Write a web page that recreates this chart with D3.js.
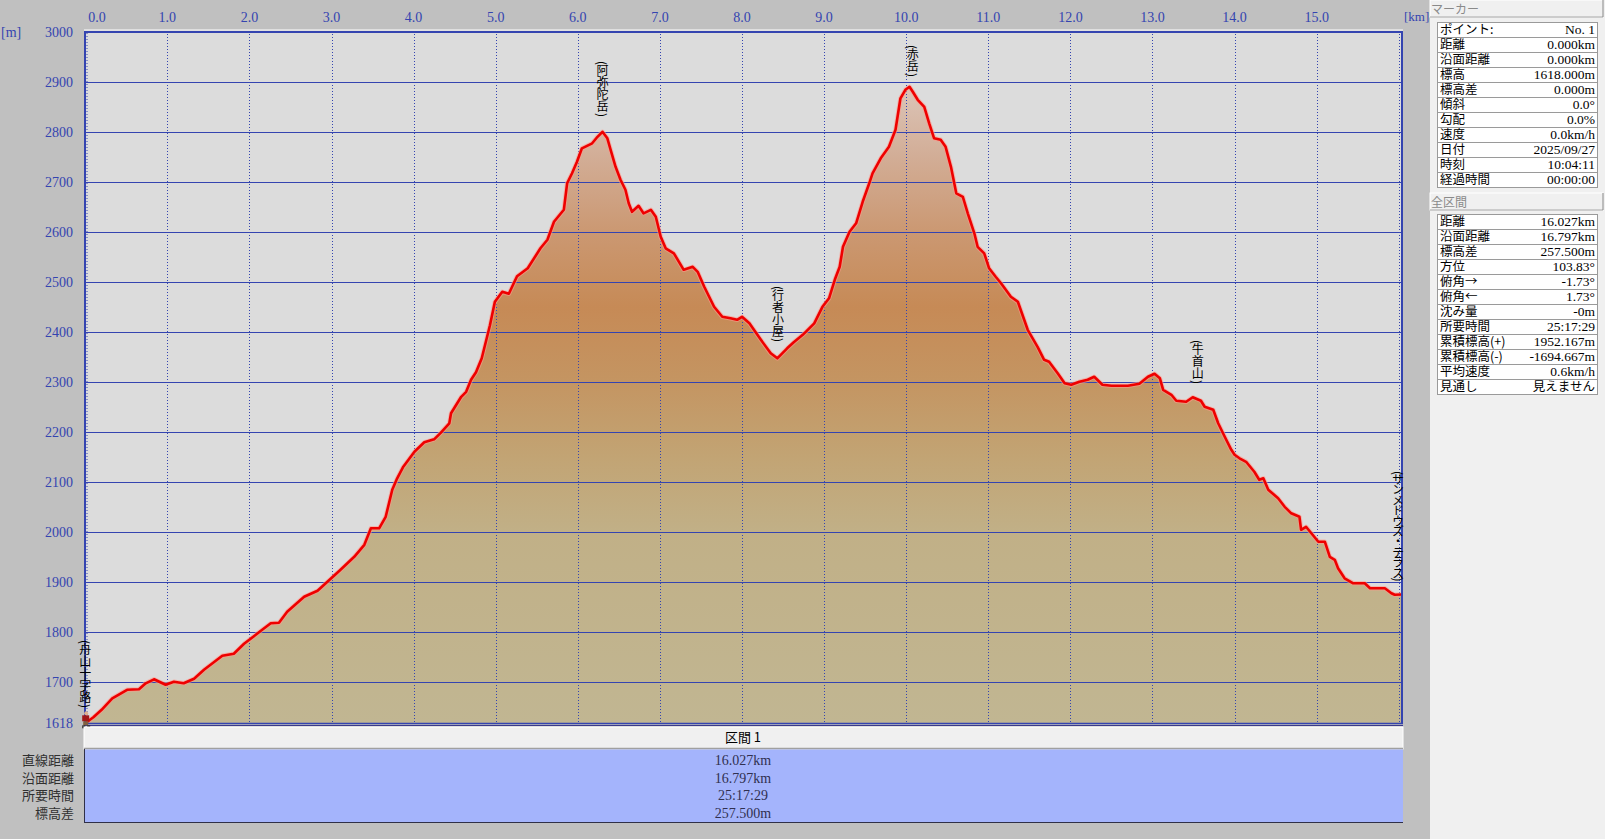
<!DOCTYPE html>
<html><head><meta charset="utf-8">
<script src="https://cdn.jsdelivr.net/npm/d3@7/dist/d3.min.js"></script>
<style>
html,body{margin:0;padding:0;background:#c0c0c0;overflow:hidden;}
#wrap{position:relative;width:1605px;height:839px;}
svg{display:block;position:absolute;left:0;top:0;}
.wp{position:absolute;writing-mode:vertical-rl;text-orientation:mixed;font-family:'Noto Sans CJK JP','Noto Sans',sans-serif;font-size:12px;line-height:13px;color:#000;white-space:nowrap;transform:translate(-50%,-100%);}
</style></head>
<body>
<div id="wrap"><svg id="c" width="1605" height="839"></svg></div>
<script>
// ---- data ----
const distanceKm = [0,0.1,0.2,0.33,0.51,0.655,0.737,0.838,0.98,1.08,1.2,1.326,1.447,1.67,1.81,1.935,2.14,2.26,2.36,2.46,2.667,2.83,2.95,3.11,3.277,3.4,3.48,3.58,3.66,3.74,3.8,3.87,4.01,4.13,4.25,4.33,4.435,4.456,4.58,4.64,4.7,4.76,4.83,4.93,4.99,5.08,5.16,5.26,5.39,5.545,5.63,5.71,5.83,5.87,5.93,5.99,6.05,6.175,6.24,6.3,6.36,6.4,6.46,6.52,6.58,6.62,6.66,6.74,6.8,6.89,6.95,7.01,7.07,7.17,7.29,7.4,7.46,7.54,7.66,7.76,7.86,7.94,8.0,8.09,8.23,8.35,8.43,8.55,8.63,8.74,8.88,8.98,9.06,9.13,9.19,9.23,9.31,9.39,9.47,9.55,9.59,9.69,9.79,9.87,9.93,9.99,10.04,10.08,10.14,10.22,10.28,10.34,10.42,10.48,10.545,10.61,10.69,10.75,10.83,10.87,10.95,11.01,11.09,11.155,11.275,11.36,11.48,11.6,11.68,11.74,11.845,11.93,12.01,12.11,12.21,12.29,12.39,12.5,12.7,12.84,12.945,13.025,13.09,13.13,13.23,13.29,13.41,13.49,13.59,13.635,13.74,13.8,13.88,13.96,14.0,14.06,14.14,14.24,14.3,14.35,14.41,14.53,14.61,14.69,14.79,14.81,14.87,14.95,15.02,15.1,15.16,15.22,15.26,15.34,15.445,15.585,15.65,15.83,15.91,15.95,16.027];
const elevationM = [1618,1630,1645,1668,1685,1686,1698,1706,1695,1701,1698,1707,1725,1753,1757,1777,1803,1818,1819,1841,1871,1883,1901,1925,1951,1975,2008,2008,2031,2085,2108,2130,2161,2180,2186,2199,2218,2238,2271,2281,2305,2320,2348,2414,2461,2481,2477,2512,2528,2568,2585,2621,2645,2698,2718,2741,2768,2778,2791,2801,2788,2765,2731,2705,2685,2658,2641,2653,2638,2645,2631,2591,2568,2558,2525,2531,2521,2491,2451,2431,2428,2425,2431,2418,2385,2358,2348,2368,2380,2395,2418,2451,2468,2505,2531,2571,2601,2618,2661,2698,2718,2748,2771,2805,2868,2885,2891,2881,2865,2851,2818,2788,2785,2771,2731,2678,2671,2638,2598,2571,2558,2528,2511,2498,2471,2461,2405,2371,2345,2341,2318,2298,2295,2301,2305,2311,2295,2293,2293,2297,2311,2317,2308,2285,2275,2263,2261,2270,2263,2251,2245,2218,2191,2165,2155,2148,2141,2121,2105,2108,2085,2068,2051,2038,2031,2005,2011,1995,1981,1981,1951,1945,1928,1908,1898,1898,1888,1888,1878,1875,1875.5];
const waypointNames = ["(舟山十字路)","(阿弥陀岳)","(行者小屋)","(赤岳)","(牛首山)","(サンメドウズ・テラス)"];
const waypointKm = [0,6.30,8.44,10.08,13.55,16.027];
const xTicks = [0,1,2,3,4,5,6,7,8,9,10,11,12,13,14,15];
const xTickLabels = ["0.0","1.0","2.0","3.0","4.0","5.0","6.0","7.0","8.0","9.0","10.0","11.0","12.0","13.0","14.0","15.0"];
const yTicks = [1618,1700,1800,1900,2000,2100,2200,2300,2400,2500,2600,2700,2800,2900,3000];
const markerLabels = ["ポイント:","距離","沿面距離","標高","標高差","傾斜","勾配","速度","日付","時刻","経過時間"];
const markerValues = ["No. 1","0.000km","0.000km","1618.000m","0.000m","0.0°","0.0%","0.0km/h","2025/09/27","10:04:11","00:00:00"];
const totalLabels = ["距離","沿面距離","標高差","方位","俯角→","俯角←","沈み量","所要時間","累積標高(+)","累積標高(-)","平均速度","見通し"];
const totalValues = ["16.027km","16.797km","257.500m","103.83°","-1.73°","1.73°","-0m","25:17:29","1952.167m","-1694.667m","0.6km/h","見えません"];
const sectionRowLabels = ["直線距離","沿面距離","所要時間","標高差"];
const sectionValues = ["16.027km","16.797km","25:17:29","257.500m"];
const sectionTitle = "区間 1";

// ---- layout ----
const svg = d3.select("#c");
const P = {l:84, r:1402, t:31, b:724};
const x = d3.scaleLinear().domain([0,16]).range([85.2, 85.2+82.1*16]);
const y = d3.scaleLinear().domain([1618,3000]).range([723.3, 32.3]);
const serif = "'Liberation Serif','DejaVu Serif',serif";
const jp = "'Noto Sans CJK JP','Noto Sans',sans-serif";
const blue = "#3444b0";
const data = distanceKm.map((d,i)=>({km:d, m:elevationM[i]}));

// right panel
svg.append("rect").attr("x",1430).attr("y",0).attr("width",175).attr("height",839).attr("fill","#f0f0f0");

// plot bg
svg.append("rect").attr("x",P.l).attr("y",P.t).attr("width",P.r-P.l).attr("height",P.b-P.t).attr("fill","#dcdcdc");

// gradient
const defs = svg.append("defs");
const grad = defs.append("linearGradient").attr("id","fillg").attr("gradientUnits","userSpaceOnUse")
  .attr("x1",0).attr("x2",0).attr("y1",y(2900)).attr("y2",y(1618));
const stops = [[2900,"#dcc6ba"],[2750,"#d2ad96"],[2600,"#cb9872"],[2450,"#c68a56"],[2300,"#c49562"],[2150,"#c2a474"],[2000,"#c1b087"],[1618,"#c1b692"]];
stops.forEach(s=>grad.append("stop").attr("offset",(y(s[0])-y(2900))/(y(1618)-y(2900))).attr("stop-color",s[1]));

const area = d3.area().x(d=>x(d.km)).y0(y(1618)).y1(d=>y(d.m));
svg.append("path").datum(data).attr("d",area).attr("fill","url(#fillg)");

// grid
svg.append("g").selectAll("line").data(yTicks.filter(t=>t>1618 && t<3000)).join("line")
  .attr("x1",P.l).attr("x2",P.r).attr("y1",d=>Math.round(y(d))+0.5).attr("y2",d=>Math.round(y(d))+0.5)
  .attr("stroke",blue).attr("stroke-width",1.2);
svg.append("g").selectAll("line").data(xTicks.slice(1).concat([16])).join("line")
  .attr("x1",d=>Math.round(x(d))+0.5).attr("x2",d=>Math.round(x(d))+0.5).attr("y1",P.t).attr("y2",P.b)
  .attr("stroke",blue).attr("stroke-width",1).attr("stroke-dasharray","1,2");

// profile line
const line = d3.line().x(d=>x(d.km)).y(d=>y(d.m));
svg.append("path").datum(data).attr("d",line).attr("fill","none").attr("stroke","#ff9a8a").attr("stroke-width",4.5).attr("stroke-linejoin","round").attr("opacity",0.6);
svg.append("path").datum(data).attr("d",line).attr("fill","none").attr("stroke","#ee0000").attr("stroke-width",2.6).attr("stroke-linejoin","round");

// borders
svg.append("line").attr("x1",P.l).attr("x2",P.r+1).attr("y1",30).attr("y2",30).attr("stroke","#ffffff").attr("stroke-width",1);
svg.append("line").attr("x1",P.l).attr("x2",P.r+1).attr("y1",32).attr("y2",32).attr("stroke",blue).attr("stroke-width",2);
svg.append("line").attr("x1",P.l+1).attr("x2",P.l+1).attr("y1",31).attr("y2",P.b).attr("stroke",blue).attr("stroke-width",2);
svg.append("line").attr("x1",P.l+3).attr("x2",P.l+3).attr("y1",33).attr("y2",P.b).attr("stroke",blue).attr("stroke-width",1).attr("stroke-dasharray","1,2");
svg.append("line").attr("x1",P.r).attr("x2",P.r).attr("y1",31).attr("y2",P.b).attr("stroke",blue).attr("stroke-width",2);
svg.append("line").attr("x1",P.l).attr("x2",P.r+1).attr("y1",723.5).attr("y2",723.5).attr("stroke",blue).attr("stroke-width",1.5);
svg.append("line").attr("x1",P.l).attr("x2",P.r+1).attr("y1",725.5).attr("y2",725.5).attr("stroke","#3a3a8a").attr("stroke-width",1.2);

// axis labels
svg.append("g").selectAll("text").data(xTicks).join("text")
  .attr("x",(d,i)=> i===0 ? x(d)+3 : x(d)).attr("y",22)
  .attr("text-anchor",(d,i)=> i===0 ? "start":"middle")
  .attr("font-family",serif).attr("font-size",14).attr("fill",blue)
  .text((d,i)=>xTickLabels[i]);
svg.append("g").selectAll("text").data(yTicks).join("text")
  .attr("x",73).attr("y",d=>y(d)+5).attr("text-anchor","end")
  .attr("font-family",serif).attr("font-size",14).attr("fill",blue).text(d=>d);
svg.append("text").attr("x",1).attr("y",37).attr("font-family",serif).attr("font-size",14).attr("fill",blue).text("[m]");
svg.append("text").attr("x",1404).attr("y",21).attr("font-family",serif).attr("font-size",13).attr("fill",blue).text("[km]");

// waypoint labels (vertical HTML text)
const elevAt = km => {
  const i = d3.bisector(d=>d.km).left(data, km);
  if (i<=0) return data[0].m; if (i>=data.length) return data[data.length-1].m;
  const a=data[i-1], b=data[i]; return a.m + (b.m-a.m)*(km-a.km)/(b.km-a.km);
};
d3.select("#wrap").selectAll("div.wp").data(waypointNames).join("div").attr("class","wp")
  .style("left",(d,i)=>Math.min(x(waypointKm[i]), 1398)+"px")
  .style("top",(d,i)=>(y(elevAt(waypointKm[i]))-15)+"px")
  .style("letter-spacing",d=>/[\u30A0-\u30FF]/.test(d)?"-1.6px":"0px")
  .text(d=>d);

// hiker icon at start
const hx = x(0), hy = y(1618);
const hk = svg.append("g");
hk.append("circle").attr("cx",hx+1).attr("cy",hy-10).attr("r",2).attr("fill","#e0b090");
hk.append("rect").attr("x",hx-3).attr("y",hy-8).attr("width",7).attr("height",6).attr("fill","#a01818");
hk.append("rect").attr("x",hx-2).attr("y",hy-2).attr("width",5).attr("height",4).attr("fill","#806040");
hk.append("rect").attr("x",hx-3).attr("y",hy+2).attr("width",3).attr("height",3).attr("fill","#303030");
hk.append("rect").attr("x",hx+2).attr("y",hy+2).attr("width",3).attr("height",3).attr("fill","#303030");

// bottom section table
svg.append("rect").attr("x",P.l).attr("y",727).attr("width",P.r-P.l+1).attr("height",22).attr("fill","#f0f0f0").attr("stroke","#ffffff");
svg.append("line").attr("x1",P.l).attr("x2",P.r+1).attr("y1",748.5).attr("y2",748.5).attr("stroke","#a0a0a0").attr("stroke-width",1.5);
svg.append("rect").attr("x",P.l).attr("y",749.5).attr("width",P.r-P.l+1).attr("height",72.5).attr("fill","#a4b4fc");
svg.append("line").attr("x1",P.l).attr("x2",P.r+1).attr("y1",822.5).attr("y2",822.5).attr("stroke","#303048").attr("stroke-width",1.2);
svg.append("line").attr("x1",P.l+0.5).attr("x2",P.l+0.5).attr("y1",749).attr("y2",823).attr("stroke","#303048").attr("stroke-width",1);
const midX = (P.l+P.r)/2;
svg.append("text").attr("x",midX).attr("y",742).attr("text-anchor","middle").attr("font-family",jp).attr("font-size",13).attr("fill","#000").text(sectionTitle);
const rowY = [759.5,777.5,795,812.5];
svg.append("g").selectAll("text").data(sectionValues).join("text")
  .attr("x",midX).attr("y",(d,i)=>rowY[i]+5).attr("text-anchor","middle")
  .attr("font-family",serif).attr("font-size",14).attr("fill","#303050").text(d=>d);
svg.append("g").selectAll("text").data(sectionRowLabels).join("text")
  .attr("x",74).attr("y",(d,i)=>rowY[i]+5).attr("text-anchor","end")
  .attr("font-family",jp).attr("font-size",13).attr("fill","#303030").text(d=>d);

// right panel: headers and tables
function header(yTop, label){
  svg.append("rect").attr("x",1430).attr("y",yTop).attr("width",173).attr("height",17).attr("fill","#f0f0f0").attr("stroke","#ffffff");
  svg.append("line").attr("x1",1430).attr("x2",1603).attr("y1",yTop+17).attr("y2",yTop+17).attr("stroke","#a0a0a0");
  svg.append("line").attr("x1",1603).attr("x2",1603).attr("y1",yTop).attr("y2",yTop+17).attr("stroke","#808080");
  svg.append("text").attr("x",1431).attr("y",yTop+14).attr("font-family",jp).attr("font-size",12).attr("fill","#8a8a8a").text(label);
}
function table(yTop, labels, values){
  const g = svg.append("g");
  const rh = 15;
  g.selectAll("rect.row").data(labels).join("rect").attr("class","row")
    .attr("x",1437.5).attr("y",(d,i)=>yTop+i*rh+0.5).attr("width",160).attr("height",rh)
    .attr("fill","#ffffff").attr("stroke","#9a9a9a").attr("stroke-width",1);
  g.selectAll("text.l").data(labels).join("text").attr("class","l")
    .attr("x",1440).attr("y",(d,i)=>yTop+i*rh+12).attr("font-family",jp).attr("font-size",12.5).attr("fill","#000").text(d=>d);
  g.selectAll("text.v").data(values).join("text").attr("class","v")
    .attr("x",1595).attr("y",(d,i)=>yTop+i*rh+12).attr("text-anchor","end")
    .attr("font-family",d=>/[ぁ-ん]/.test(d)?jp:serif).attr("font-size",d=>/[ぁ-ん]/.test(d)?12.5:13.5).attr("fill","#000").text(d=>d);
}
header(0,"マーカー");
table(22, markerLabels, markerValues);
header(193,"全区間");
table(214, totalLabels, totalValues);
</script>
</body></html>
